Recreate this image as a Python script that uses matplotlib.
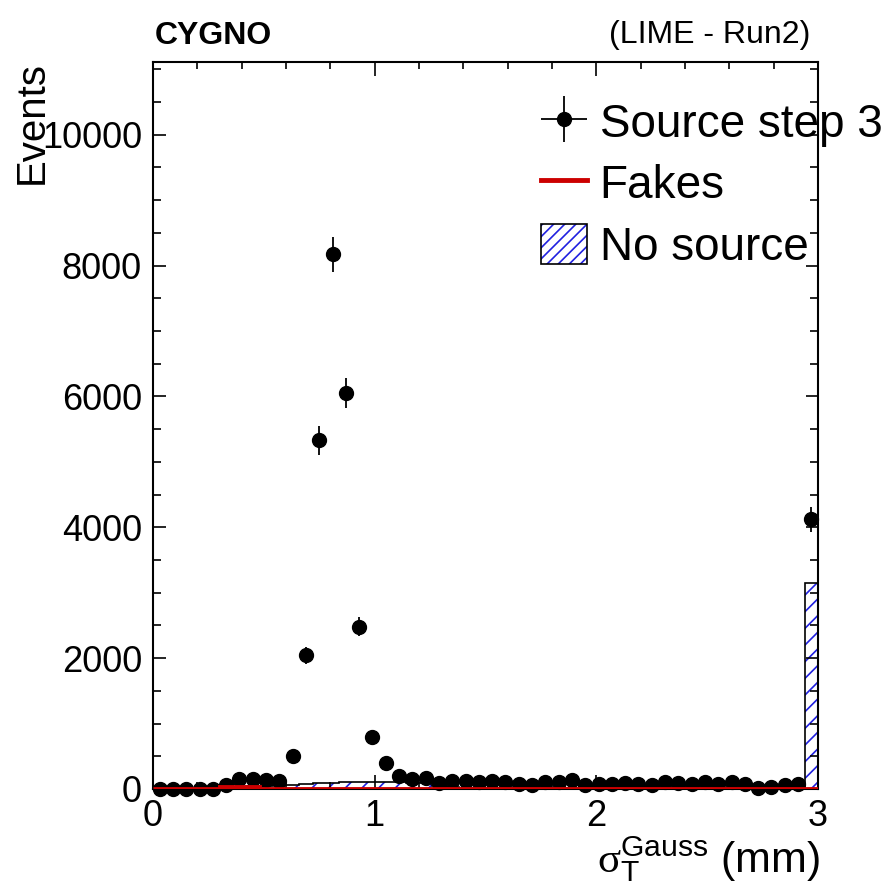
import matplotlib
matplotlib.use("Agg")
import matplotlib.pyplot as plt
from matplotlib.patches import Patch
from matplotlib.lines import Line2D
from matplotlib.ticker import MultipleLocator

# binning: 50 bins between 0 and 3 mm
bin_edges = [0.06 * i for i in range(51)]
bin_centers = [0.03 + 0.06 * i for i in range(50)]

# source step 3 (data points)
source_counts = [0, 0, 0, 0, 0, 57, 158, 148, 138, 128,
                 505, 2040, 5330, 8170, 6050, 2480, 790, 403, 199, 158,
                 170, 90, 122, 122, 101, 122, 112, 76, 66, 112,
                 112, 132, 66, 76, 76, 86, 76, 66, 101, 86,
                 76, 101, 76, 112, 76, 10, 36, 55, 76, 4120]
source_errors = [0, 0, 0, 0, 0, 23, 38, 36, 35, 34,
                 67, 135, 219, 271, 233, 149, 84, 60, 42, 38,
                 39, 28, 33, 33, 30, 33, 32, 26, 24, 32,
                 32, 34, 24, 26, 26, 28, 26, 24, 30, 28,
                 26, 30, 26, 32, 26, 10, 18, 22, 26, 193]

# fakes
fakes_counts = [0, 0, 0, 0, 0, 25, 25, 25, 5, 5,
                5, 5, 5, 5, 5, 5, 5, 5, 5, 5,
                5, 5, 5, 5, 5, 5, 5, 5, 5, 5,
                5, 5, 5, 5, 5, 5, 5, 5, 5, 5,
                5, 5, 5, 5, 5, 5, 5, 5, 5, 5]

# no source
nosource_counts = [0, 0, 0, 0, 0, 30, 35, 40, 45, 55,
                   65, 75, 85, 95, 100, 105, 105, 105, 100, 95,
                   90, 50, 25, 10, 10, 10, 10, 10, 10, 10,
                   10, 10, 10, 10, 10, 10, 10, 10, 10, 10,
                   10, 10, 10, 10, 10, 10, 10, 10, 10, 3150]

plt.rcParams['font.family'] = ['Liberation Sans', 'DejaVu Sans']
plt.rcParams['hatch.linewidth'] = 1.2
# math text: serif sigma, sans sub/superscripts
plt.rcParams['mathtext.rm'] = 'Liberation Serif'
plt.rcParams['mathtext.sf'] = 'Liberation Sans'
plt.rcParams['mathtext.it'] = 'Liberation Serif:italic'

blue = '#2020e0'
red = '#cc0000'

fig = plt.figure(figsize=(8.86, 8.91), dpi=100)
ax = fig.add_axes([0.1727, 0.1145, 0.7506, 0.8159])

# hatched histogram + black outline
ax.stairs(nosource_counts, bin_edges, fill=True, facecolor='none',
          edgecolor=blue, hatch='//', linewidth=0, zorder=1)
ax.stairs(nosource_counts, bin_edges, color='black', linewidth=1.2, zorder=2)

# data points
ax.errorbar(bin_centers, source_counts, yerr=source_errors, xerr=0.03,
            fmt='o', color='black', markersize=10, elinewidth=1.3,
            capsize=0, zorder=3, clip_on=False)

# fakes
ax.stairs(fakes_counts, bin_edges, color=red, linewidth=3.5, zorder=4)

ax.set_xlim(0, 3)
ax.set_ylim(0, 11110)
ax.xaxis.set_major_locator(MultipleLocator(1))
ax.xaxis.set_minor_locator(MultipleLocator(0.2))
ax.yaxis.set_major_locator(MultipleLocator(2000))
ax.yaxis.set_minor_locator(MultipleLocator(500))
ax.tick_params(which='both', direction='in', top=True, right=True,
               labelsize=26, width=1.2)
ax.tick_params(axis='x', which='major', length=10, pad=7)
ax.tick_params(axis='x', which='minor', length=5)
ax.tick_params(axis='y', which='major', length=9, pad=8)
ax.tick_params(axis='y', which='minor', length=6)
for s in ax.spines.values():
    s.set_linewidth(1.5)

# axis titles
fig.text(0.036, 0.932, 'Events', rotation=90, ha='center', va='top', fontsize=29)
fig.text(820 / 886, 1 - 872 / 891,
         r'$\mathrm{\sigma}_{\mathsf{T}}^{\mathsf{Gauss}}$ (mm)',
         ha='right', va='baseline', fontsize=31, math_fontfamily='custom')

# header
fig.text(155 / 886, 1 - 44 / 891, 'CYGNO', fontsize=23, fontweight='bold',
         ha='left', va='baseline')
fig.text(810 / 886, 1 - 43 / 891, '(LIME - Run2)', fontsize=23,
         ha='right', va='baseline')

# legend
h_src = ax.errorbar([], [], yerr=[], xerr=[], fmt='o', color='black',
                    markersize=10, elinewidth=1.3)
h_fake = Line2D([], [], color=red, linewidth=3.5)
h_nosrc = (Patch(facecolor='white', edgecolor=blue, hatch='///', linewidth=0),
           Patch(facecolor='none', edgecolor='black', linewidth=1.2))
ax.legend([h_src, h_fake, h_nosrc], ['Source step 3', 'Fakes', 'No source'],
          loc='upper left', bbox_to_anchor=(541 / 886, 1 - 101 / 891),
          bbox_transform=fig.transFigure, frameon=False, fontsize=33,
          borderpad=0, borderaxespad=0, handlelength=1.0, handleheight=0.95,
          handletextpad=0.28, labelspacing=0.35)

fig.savefig('out.png', dpi=100)
